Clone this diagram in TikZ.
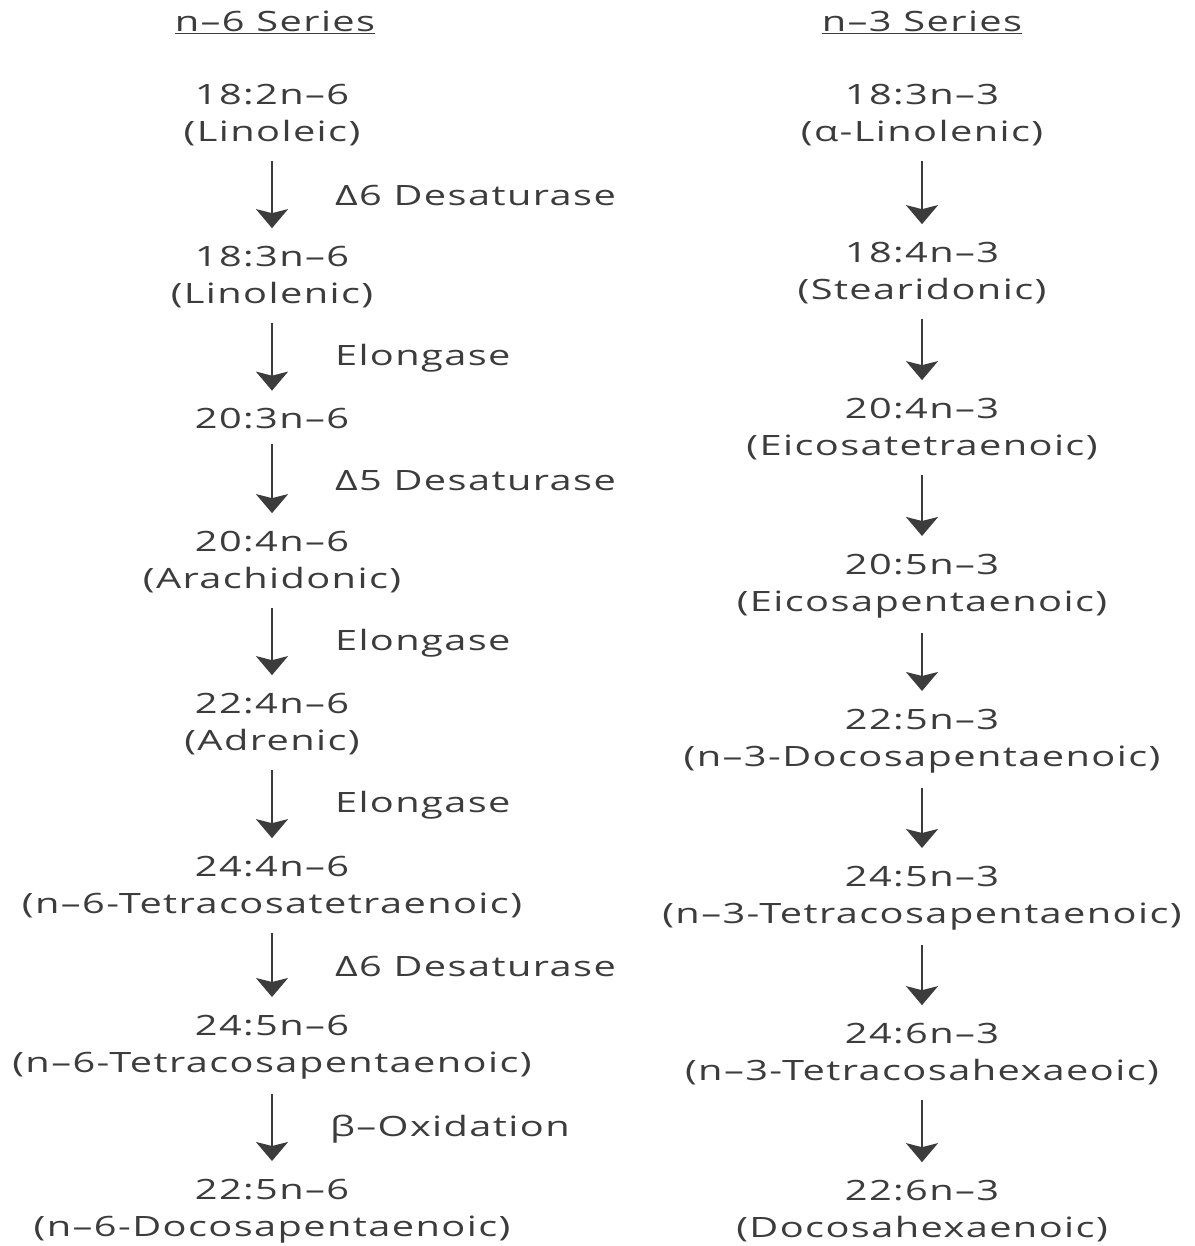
\documentclass[tikz,border=0pt]{standalone}
\usepackage{fontspec}
\setmainfont{Open Sans}[FakeStretch=1.42, LetterSpace=5]
\usetikzlibrary{arrows.meta,positioning}
\definecolor{ink}{HTML}{3C3C3C}

\begin{document}
\begin{tikzpicture}[
    x=1pt, y=-1pt,
    line width=2pt, % line style
    > = {Stealth[length=19pt,width=32pt,inset=4pt]}, % arrow head style
    every node/.style={text=ink, font=\fontsize{28}{37}\selectfont},
    acid/.style={align=center, inner sep=0pt},
    enzyme/.style={anchor=west, inner sep=0pt},
    step arrow/.style={->, color=ink, shorten <=14pt, shorten >=17pt},
]
\useasboundingbox (0,0) rectangle (1194,1246);
% headings
\node (h6) at (275,22) {\underline{n–6 Series}};
\node (h3) at (922,22) {\underline{n–3 Series}};

% n-6 series
\node[acid] (la)   at (272,115)  {18:2n–6\\(Linoleic)};
\node[acid] (gla)  at (272,277)  {18:3n–6\\(Linolenic)};
\node[acid] (dgla) at (272,419)  {20:3n–6};
\node[acid] (aa)   at (272,562)  {20:4n–6\\(Arachidonic)};
\node[acid] (adr)  at (272,724)  {22:4n–6\\(Adrenic)};
\node[acid] (tta)  at (272,887)  {24:4n–6\\(n–6-Tetracosatetraenoic)};
\node[acid] (tpa6) at (272,1047) {24:5n–6\\(n–6-Tetracosapentaenoic)};
\node[acid] (dpa6) at (272,1211) {22:5n–6\\(n–6-Docosapentaenoic)};

\draw[step arrow] (la) -- (gla)
    node[midway, enzyme, xshift=62pt] {Δ6 Desaturase};
\draw[step arrow] (gla) -- (dgla)
    node[midway, enzyme, xshift=62pt] {Elongase};
\draw[step arrow] (dgla) -- (aa)
    node[midway, enzyme, xshift=62pt] {Δ5 Desaturase};
\draw[step arrow] (aa) -- (adr)
    node[midway, enzyme, xshift=62pt] {Elongase};
\draw[step arrow] (adr) -- (tta)
    node[midway, enzyme, xshift=62pt] {Elongase};
\draw[step arrow] (tta) -- (tpa6)
    node[midway, enzyme, xshift=62pt] {Δ6 Desaturase};
\draw[step arrow] (tpa6) -- (dpa6)
    node[midway, enzyme, xshift=57pt] {β–Oxidation};

% n-3 series
\node[acid] (ala)  at (922,115)  {18:3n–3\\(α-Linolenic)};
\node[acid] (sda)  at (922,273)  {18:4n–3\\(Stearidonic)};
\node[acid] (eta)  at (922,429)  {20:4n–3\\(Eicosatetraenoic)};
\node[acid] (epa)  at (922,586)  {20:5n–3\\(Eicosapentaenoic)};
\node[acid] (dpa3) at (922,741)  {22:5n–3\\(n–3-Docosapentaenoic)};
\node[acid] (tpa3) at (922,898)  {24:5n–3\\(n–3-Tetracosapentaenoic)};
\node[acid] (thx)  at (922,1054) {24:6n–3\\(n–3-Tetracosahexaeoic)};
\node[acid] (dha)  at (922,1211) {22:6n–3\\(Docosahexaenoic)};

\foreach \a/\b in {ala/sda, sda/eta, eta/epa, epa/dpa3, dpa3/tpa3, tpa3/thx, thx/dha}
    \draw[step arrow] (\a) -- (\b);
\end{tikzpicture}
\end{document}
